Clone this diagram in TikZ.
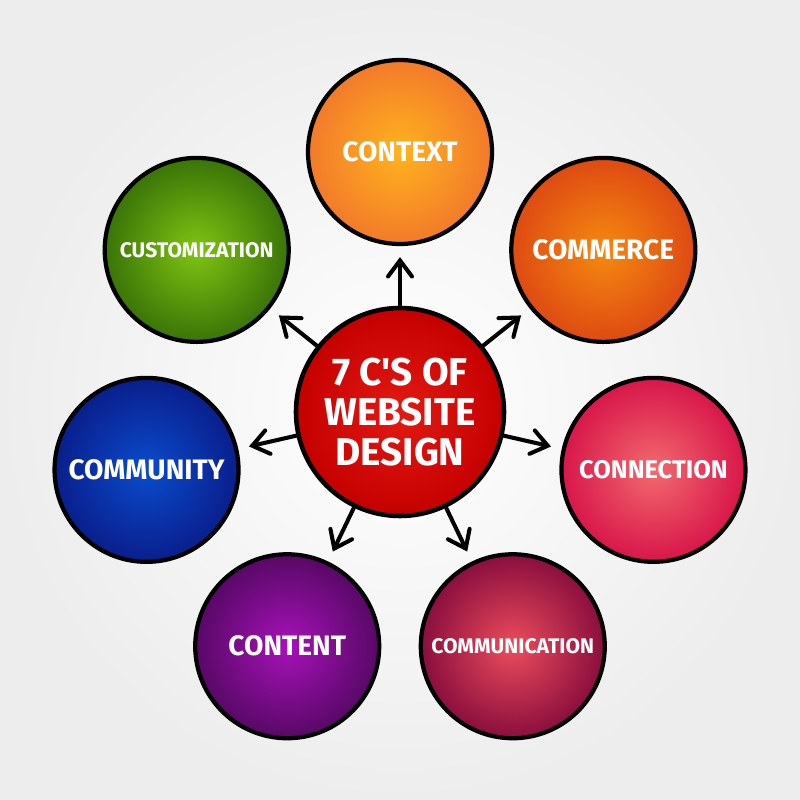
\documentclass[tikz,border=0pt]{standalone}
\usepackage{fontspec}
\setmainfont{Fira Sans}
\usepackage{xcolor}
\usetikzlibrary{
    arrows.meta,
    shapes,
    calc
}
\definecolor{hubin}{HTML}{E41A12}
\definecolor{hubout}{HTML}{C40000}
\definecolor{ctxin}{HTML}{FFB31E}
\definecolor{ctxout}{HTML}{F27A2A}
\definecolor{cmrin}{HTML}{F58A10}
\definecolor{cmrout}{HTML}{DE4A12}
\definecolor{conin}{HTML}{F26A6E}
\definecolor{conout}{HTML}{D8164A}
\definecolor{comin}{HTML}{EC4C5C}
\definecolor{comout}{HTML}{8A0E3E}
\definecolor{cntin}{HTML}{A612B8}
\definecolor{cntout}{HTML}{580866}
\definecolor{cmyin}{HTML}{0A4CCC}
\definecolor{cmyout}{HTML}{0A1E8C}
\definecolor{cusin}{HTML}{80C412}
\definecolor{cusout}{HTML}{3A7408}
\tikzset{
    bubble/.style={circle, draw=black, line width=2.4pt, minimum size=3.68cm,
        inner sep=0pt, text=white, align=center,
        font=\fontsize{16}{18}\selectfont\bfseries},
    smalltext/.style={font=\fontsize{12}{14}\selectfont\bfseries},
    link/.style={->, line width=2.3pt, line cap=round, shorten >=0.22cm}
}

\begin{document}
\begin{tikzpicture}[>={Straight Barb[length=3.2mm, width=4.8mm, line cap=round]}]
    \shade[inner color=white, outer color=black!7] (-8, -7.76) rectangle (8, 8.24);
    \useasboundingbox (-8, -7.76) rectangle (8, 8.24);

    \node[bubble, minimum size=4.16cm, line width=2.6pt, inner color=hubin, outer color=hubout,
        font=\fontsize{22}{22.8}\selectfont\bfseries] (hub) at (0, 0)
        {7 C\textquotesingle S OF\\WEBSITE\\DESIGN};

    \node[bubble, inner color=ctxin, outer color=ctxout] (ctx) at (90:5.2) {CONTEXT};
    \node[bubble, inner color=cmrin, outer color=cmrout] (cmr) at (38.57:5.2) {COMMERCE};
    \node[bubble, inner color=conin, outer color=conout,
        font=\fontsize{14.5}{16}\selectfont\bfseries] (con) at (-12.86:5.2) {CONNECTION};
    \node[bubble, smalltext, inner color=comin, outer color=comout] (com) at (-64.29:5.2) {COMMUNICATION};
    \node[bubble, inner color=cntin, outer color=cntout] (cnt) at (-115.71:5.2) {CONTENT};
    \node[bubble, inner color=cmyin, outer color=cmyout] (cmy) at (-167.14:5.2) {COMMUNITY};
    \node[bubble, smalltext, inner color=cusin, outer color=cusout] (cus) at (141.43:5.2) {CUSTOMIZATION};

    \draw[link]
    (hub) edge (ctx)
    (hub) edge (cmr)
    (hub) edge (con)
    (hub) edge (com)
    (hub) edge (cnt)
    (hub) edge (cmy)
    (hub) edge (cus);
\end{tikzpicture}
\end{document}
